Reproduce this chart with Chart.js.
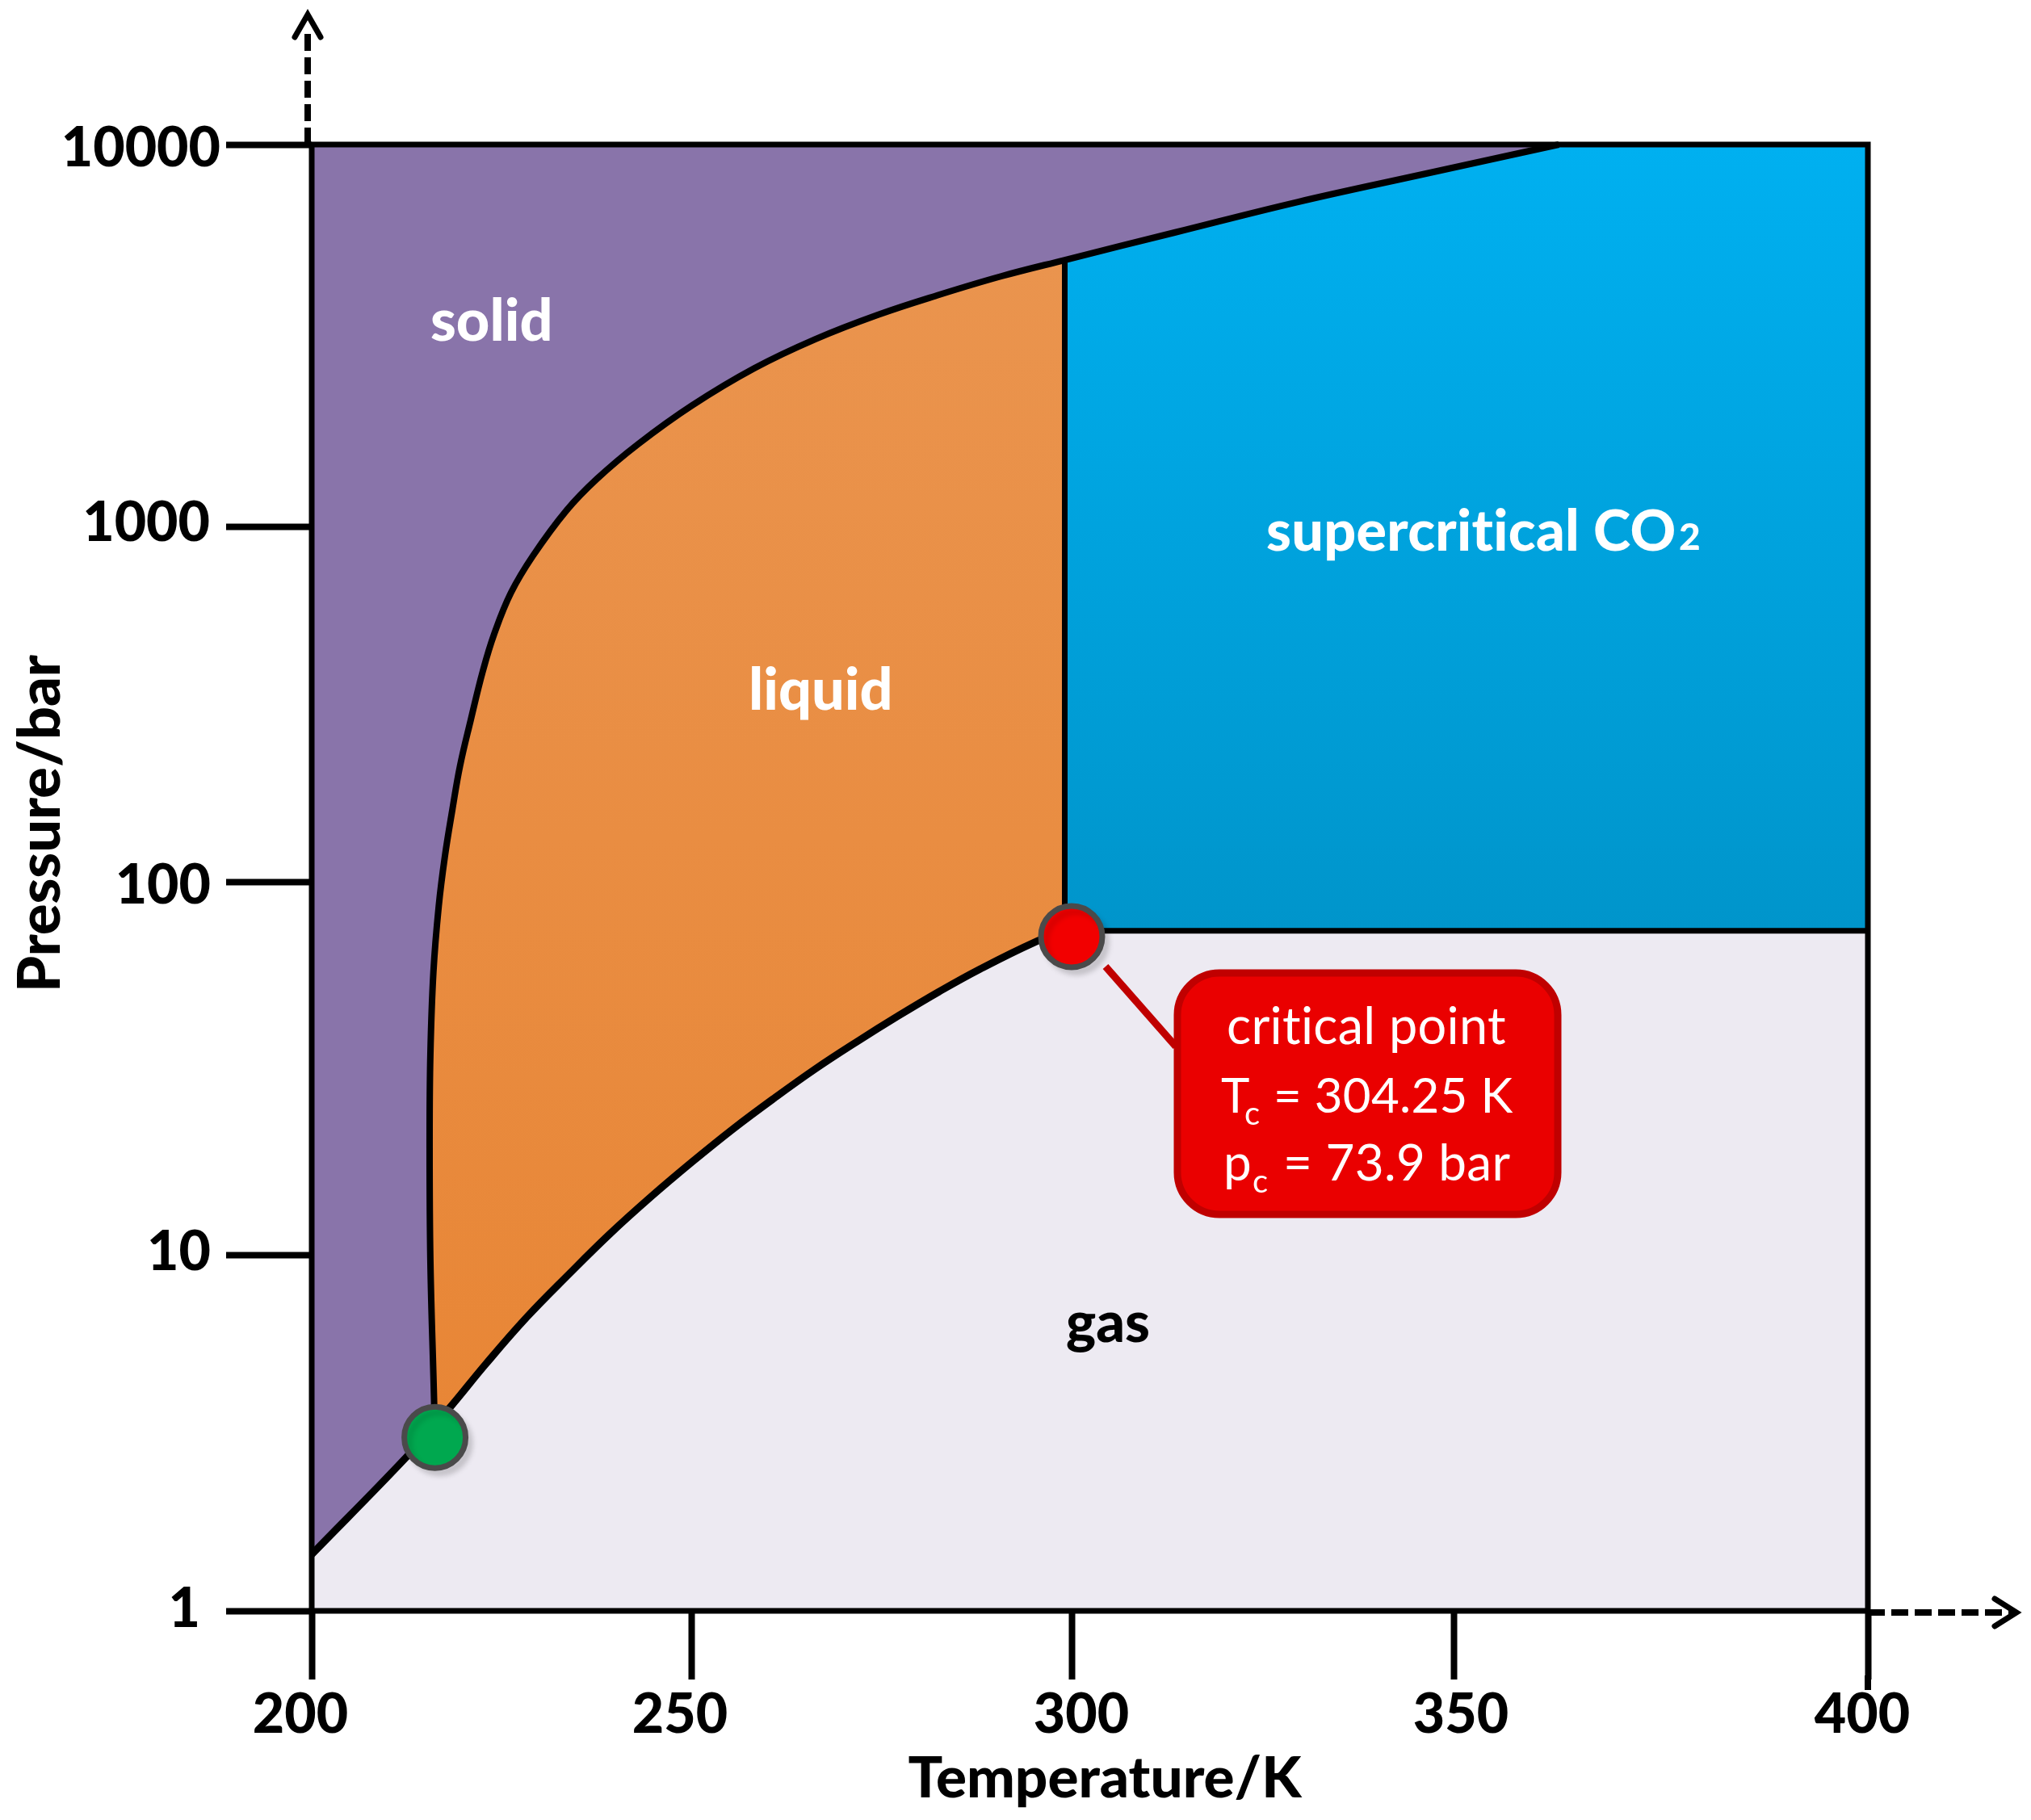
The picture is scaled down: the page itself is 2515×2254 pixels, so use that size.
<!DOCTYPE html>
<html>
<head>
<meta charset="utf-8">
<title>CO2 phase diagram</title>
<style>
  html, body { margin: 0; padding: 0; background: #fff; }
  canvas { display: block; }
</style>
<script src="https://cdn.jsdelivr.net/npm/chart.js@4/dist/chart.umd.js"></script>
</head>
<body>
<canvas id="phaseChart" width="2515" height="2254" style="width:2515px;height:2254px"></canvas>
<script>
// axis ticks, the picture's axes are hand spaced so each tick has its own stop (0..1 along the axis)
var xTicks = [200, 250, 300, 350, 400];
var xStops = [0, 0.2444, 0.4888, 0.7338, 1];
var yTicks = [1, 10, 100, 1000, 10000];
var yStops = [0, 0.2428, 0.4972, 0.7395, 1];

// solid/liquid line (K, bar)
var meltT = [216.1, 216.1, 215.6, 215.5, 215.6, 216.0, 216.7, 217.5, 218.5, 219.5, 220.9, 222.5, 224.0, 226.2, 229.1, 233.5, 237.5, 242.9, 250.0, 258.2, 266.2, 274.4, 282.5, 290.7, 299.0, 313.4, 329.6, 345.9, 362.7];
var meltP = [3.34, 3.787, 9.64, 20.7, 34.4, 57.3, 86.1, 117.6, 160, 212, 285, 392, 499, 651, 828, 1102, 1333, 1643, 2075, 2597, 3093, 3581, 4044, 4523, 4985, 5883, 7077, 8352, 10000];

// solid/gas and liquid/gas line
var boilT = [200, 212.5, 216.1, 218.0, 222.9, 228.3, 233.8, 239.2, 244.6, 250.0, 255.4, 260.8, 266.2, 271.7, 277.1, 282.5, 287.9, 295.0, 299.0];
var boilP = [1.441, 2.711, 3.34, 3.689, 4.94, 6.69, 8.82, 11.38, 14.31, 17.74, 21.76, 26.3, 31.5, 37.3, 43.7, 50.8, 58.4, 68.8, 73.9];

var triplePoint = {x: 216.2, y: 3.07};
var criticalPoint = {x: 299.9, y: 71.3};
var supercriticalT = 299.0;
var supercriticalP = 73.9;

var tickFont = {family: 'Lato', weight: '900', size: 68};

// per label nudges [dx, dy], the labels in the picture are placed by hand
var xLabelNudge = [[-14, -3], [-15, -3], [11, -3], [9, -3], [-7, -3]];
var yLabelNudge = [[-17, -2], [-4, -3], [-4, 5], [-5, -4], [8, 5]];

function stopFor(ticks, stops, v) {
    for (var i = 0; i < ticks.length - 1; i++) {
        if (v <= ticks[i + 1] || i == ticks.length - 2) {
            return stops[i] + (v - ticks[i]) / (ticks[i + 1] - ticks[i]) * (stops[i + 1] - stops[i]);
        }
    }
}

function nudge(items, nudges) {
    items.forEach(function (item, i) {
        item.options.translation[0] += nudges[i][0];
        item.options.translation[1] += nudges[i][1];
    });
    return items;
}

class HandX extends Chart.LinearScale {
    getPixelForValue(v) {
        return this.getPixelForDecimal(stopFor(xTicks, xStops, v));
    }
    _computeLabelItems(area) {
        return nudge(super._computeLabelItems(area), xLabelNudge);
    }
}
HandX.id = 'handX';
HandX.defaults = Chart.LinearScale.defaults;

class HandY extends Chart.LogarithmicScale {
    getPixelForValue(v) {
        return this.getPixelForDecimal(stopFor(yTicks.map(Math.log10), yStops, Math.log10(v)));
    }
    _computeLabelItems(area) {
        return nudge(super._computeLabelItems(area), yLabelNudge);
    }
}
HandY.id = 'handY';
HandY.defaults = Chart.LogarithmicScale.defaults;

Chart.register(HandX, HandY);

function points(ts, ps) {
    return ts.map(function (t, i) { return {x: t, y: ps[i]}; });
}

function region(data, color, order) {
    return {data: data, backgroundColor: color, fill: 'shape', showLine: true, borderWidth: 0, pointRadius: 0, tension: 0, order: order};
}

function edge(data, width, order, tension) {
    return {data: data, borderColor: '#000', borderWidth: width, showLine: true, fill: false, pointRadius: 0, tension: tension || 0, order: order, clip: false};
}

function marker(point, color) {
    return {data: [point], backgroundColor: color, borderColor: '#4a4a4a', pointRadius: 38, pointBorderWidth: 7, shadow: true, order: 1, clip: false};
}

function verticalGradient(top, bottom, colorTop, colorBottom) {
    return function (context) {
        var chart = context.chart;
        if (!chart.chartArea) return colorTop;
        var g = chart.ctx.createLinearGradient(0, top, 0, bottom);
        g.addColorStop(0, colorTop);
        g.addColorStop(1, colorBottom);
        return g;
    };
}

function line(ctx, x1, y1, x2, y2) {
    ctx.beginPath();
    ctx.moveTo(x1, y1);
    ctx.lineTo(x2, y2);
    ctx.stroke();
}

function text(ctx, str, x, y, font, color) {
    ctx.font = font;
    ctx.fillStyle = color;
    ctx.fillText(str, x, y);
}

function drawArrows(ctx, scales) {
    var left = scales.x.getPixelForValue(200);
    var right = scales.x.getPixelForValue(400);
    var top = scales.y.getPixelForValue(10000);
    var bottom = scales.y.getPixelForValue(1);
    ctx.strokeStyle = '#000';
    ctx.lineWidth = 8;
    ctx.setLineDash([21, 8]);
    line(ctx, left - 5, top, left - 5, 36);
    line(ctx, right, bottom + 2, 2494, bottom + 2);
    ctx.setLineDash([]);
    ctx.lineCap = 'round';
    ctx.lineJoin = 'miter';
    ctx.lineWidth = 7;
    ctx.beginPath();
    ctx.moveTo(365, 46); ctx.lineTo(left - 5, 18); ctx.lineTo(397, 46);
    ctx.stroke();
    ctx.beginPath();
    ctx.moveTo(2470, 1980); ctx.lineTo(2497, bottom + 2); ctx.lineTo(2470, 2014);
    ctx.stroke();
    ctx.lineCap = 'butt';
    // the 400 tick runs a bit longer than the others
    ctx.lineWidth = 8;
    line(ctx, right, 2075, right, 2093);
}

function drawCallout(ctx) {
    ctx.strokeStyle = '#C00000';
    ctx.lineWidth = 9;
    line(ctx, 1369, 1197, 1456, 1296);
    ctx.fillStyle = '#EA0000';
    ctx.beginPath();
    ctx.roundRect(1458, 1205, 471, 299, 52);
    ctx.fill();
    ctx.stroke();

    var small = '40px Lato';
    ctx.textAlign = 'left';
    ctx.textBaseline = 'alphabetic';
    ctx.letterSpacing = '0.3px';
    text(ctx, 'critical point', 1519, 1293, '63px Lato', '#fff');
    text(ctx, 'T', 1512, 1378, '60px Lato', '#fff');
    text(ctx, 'c', 1541, 1393, small, '#fff');
    text(ctx, '= 304.25 K', 1577, 1378, '60px Lato', '#fff');
    text(ctx, 'p', 1515, 1462, '62px Lato', '#fff');
    text(ctx, 'c', 1551, 1477, small, '#fff');
    text(ctx, '= 73.9 bar', 1589, 1462, '62px Lato', '#fff');
    ctx.letterSpacing = '0px';
}

function drawLabels(ctx) {
    ctx.textAlign = 'left';
    ctx.textBaseline = 'alphabetic';
    text(ctx, 'solid', 533, 422, '900 72px Lato', '#fff');
    text(ctx, 'liquid', 927, 879, '900 72px Lato', '#fff');
    ctx.letterSpacing = '0.3px';
    text(ctx, 'supercritical CO', 1568, 682, '900 70px Lato', '#fff');
    ctx.letterSpacing = '0px';
    text(ctx, '2', 2079, 681, '900 46px Lato', '#fff');
    text(ctx, 'gas', 1320, 1662, '900 70px Lato', '#000');

    ctx.textAlign = 'center';
    text(ctx, 'Temperature/K', 1368, 2226, '900 71px Lato', '#000');
    ctx.save();
    ctx.translate(74, 1020);
    ctx.rotate(-Math.PI / 2);
    text(ctx, 'Pressure/bar', 0, 0, '900 72px Lato', '#000');
    ctx.restore();
}

var decoration = {
    id: 'decoration',
    beforeDatasetDraw: function (chart, args) {
        if (!chart.data.datasets[args.index].shadow) return;
        var ctx = chart.ctx;
        ctx.save();
        ctx.shadowColor = 'rgba(0,0,0,0.12)';
        ctx.shadowBlur = 6;
        ctx.shadowOffsetX = 6;
        ctx.shadowOffsetY = 7;
    },
    afterDatasetDraw: function (chart, args) {
        if (chart.data.datasets[args.index].shadow) chart.ctx.restore();
    },
    afterDatasetsDraw: function (chart) {
        var ctx = chart.ctx;
        ctx.save();
        drawArrows(ctx, chart.scales);
        drawCallout(ctx);
        drawLabels(ctx);
        ctx.restore();
    }
};

window.onload = function () {
    var melt = points(meltT, meltP);
    var boil = points(boilT, boilP);
    var cut = meltT.indexOf(supercriticalT);
    var corner = {x: supercriticalT, y: supercriticalP};

    var gas = [{x: 200, y: 1}, {x: 400, y: 1}, {x: 400, y: 10000}, {x: 200, y: 10000}];
    var solid = boil.slice(0, 2).concat(melt, [{x: 200, y: 10000}]);
    var liquid = melt.slice(0, cut + 1).concat(boil.slice(2).reverse());
    var supercritical = melt.slice(cut).concat([{x: 400, y: 10000}, {x: 400, y: supercriticalP}, corner]);

    new Chart(document.getElementById('phaseChart').getContext('2d'), {
        type: 'scatter',
        data: {
            datasets: [
                marker(criticalPoint, '#F20000'),
                marker(triplePoint, '#00A84F'),
                edge(melt, 8, 3, 0.4),
                edge(boil, 9, 3, 0.4),
                edge([melt[cut], corner], 7, 3),
                edge([corner, {x: 400, y: supercriticalP}], 7, 3),
                edge(gas.concat([gas[0]]), 7, 4),
                region(solid, '#8974AA', 6),
                region(liquid, verticalGradient(322, 1750, '#EA944E', '#E88636'), 7),
                region(supercritical, verticalGradient(180, 1152, '#00B0F0', '#0095CB'), 8),
                region(gas, '#EDEAF2', 9)
            ]
        },
        options: {
            responsive: false,
            animation: false,
            events: [],
            layout: {padding: {top: 179, right: 202, left: 0, bottom: 0}},
            plugins: {legend: {display: false}, tooltip: {enabled: false}},
            scales: {
                x: {
                    type: 'handX',
                    min: 200,
                    max: 400,
                    afterBuildTicks: function (s) { s.ticks = xTicks.map(function (v) { return {value: v}; }); },
                    afterFit: function (s) { s.height = 259; },
                    border: {display: false},
                    grid: {drawOnChartArea: false, tickLength: 85, tickWidth: 8, tickColor: '#000'},
                    ticks: {font: tickFont, color: '#000', padding: 6, maxRotation: 0, autoSkip: false, callback: function (v) { return String(v); }}
                },
                y: {
                    type: 'handY',
                    min: 1,
                    max: 10000,
                    afterBuildTicks: function (s) { s.ticks = yTicks.map(function (v) { return {value: v}; }); },
                    afterFit: function (s) { s.width = 386; },
                    border: {display: false},
                    grid: {drawOnChartArea: false, tickLength: 106, tickWidth: 8, tickColor: '#000'},
                    ticks: {font: tickFont, color: '#000', padding: 15, autoSkip: false, callback: function (v) { return String(v); }}
                }
            }
        },
        plugins: [decoration]
    });
};
</script>
</body>
</html>
